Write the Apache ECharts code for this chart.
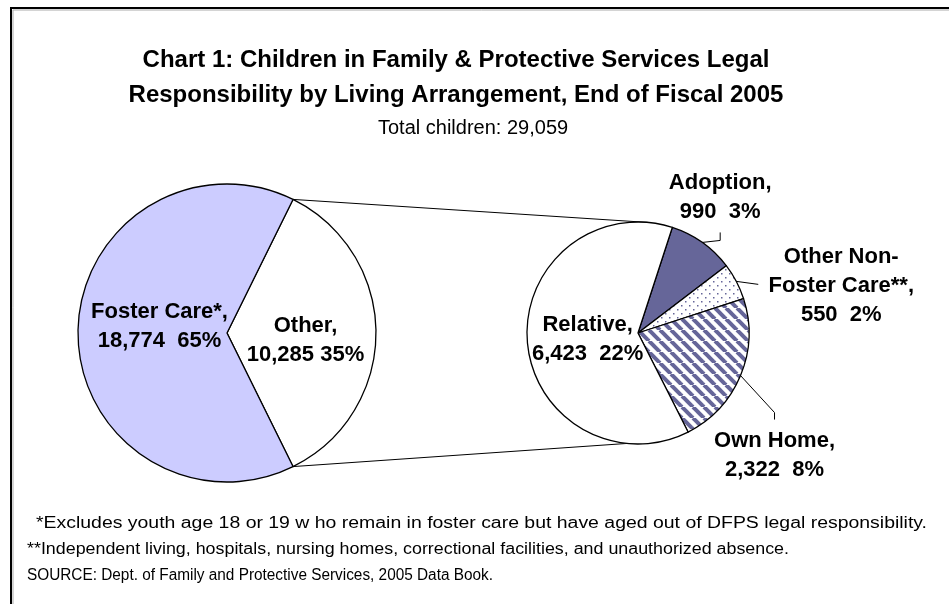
<!DOCTYPE html>
<html>
<head>
<meta charset="utf-8">
<title>Children in DFPS Legal Responsibility by Living Arrangement, 2005</title>
<script src="https://cdn.jsdelivr.net/npm/echarts@6.0.0/dist/echarts.min.js"></script>
<style>
    html, body { margin: 0; padding: 0; background: #fff; }
    #chart { width: 949px; height: 604px; }
</style>
</head>
<body>
<div id="chart"></div>
<script>
    // first pie: all children
    var mainNames = ['Other', 'Foster Care*'];
    var mainValues = [10285, 18774];
    // second pie: breakdown of "Other"
    var otherNames = ['Adoption', 'Other Non-\nFoster Care**', 'Own Home', 'Relative'];
    var otherValues = [990, 550, 2322, 6423];
    var totalChildren = 29059;

    var titleLines = [
        'Chart 1: Children in Family & Protective Services Legal',
        'Responsibility by Living Arrangement, End of Fiscal 2005'
    ];
    var subtitle = 'Total children: 29,059';
    var notes = [
        '*Excludes youth age 18 or 19 w ho remain in foster care but have aged out of DFPS legal responsibility.',
        '**Independent living, hospitals, nursing homes, correctional facilities, and unauthorized absence.',
        'SOURCE: Dept. of Family and Protective Services, 2005 Data Book.'
    ];

    var FONT = '"Liberation Sans", Arial, sans-serif';
    var bigC = [227, 333], bigR = 149;
    var smallC = [638, 333], smallR = 111;
    var smallStart = 72;

    function sum(a) { return a.reduce(function (s, v) { return s + v; }, 0); }

    // "Other" slice is centred on 3 o'clock
    var bigStart = 180 * mainValues[0] / sum(mainValues);

    function stripes() {
        var n = 11;
        var c = document.createElement('canvas');
        c.width = c.height = n;
        var g = c.getContext('2d');
        g.fillStyle = '#fff';
        g.fillRect(0, 0, n, n);
        g.strokeStyle = '#666699';
        g.lineWidth = 4;
        for (var k = -n; k <= n; k += n) {
            g.beginPath();
            g.moveTo(k, 0);
            g.lineTo(k + n, n);
            g.stroke();
        }
        return c;
    }

    function dots() {
        var c = document.createElement('canvas');
        c.width = c.height = 8;
        var g = c.getContext('2d');
        g.fillStyle = '#fff';
        g.fillRect(0, 0, 8, 8);
        g.fillStyle = '#666699';
        g.fillRect(1, 1, 1.5, 1.5);
        g.fillRect(5, 5, 1.5, 1.5);
        return c;
    }

    var smallFills = ['#666699', {image: dots(), repeat: 'repeat'}, {image: stripes(), repeat: 'repeat'}, '#fff'];
    var bigFills = ['#fff', '#ccccff'];

    function fmt(name, value) {
        var sep = name === 'Other' ? ' ' : '  ';
        return name + ',\n' + value.toLocaleString('en-US') + sep + Math.round(value / totalChildren * 100) + '%';
    }

    // callouts for the small slices: label centre and leader bends, relative to the slice's outer edge
    var callouts = {
        0: {dx: 18, dy: -45, bends: [[18, -2], [18, -10]]},
        1: {dx: 105, dy: 5, bends: [[22, 3]]},
        2: {dx: 34, dy: 80, bends: [[34, 37], [34, 44]]}
    };
    var bigNudge = {0: [1, 7], 1: [10, -7]};

    function smallEdge(i) {
        var tot = sum(otherValues), acc = 0;
        for (var k = 0; k < i; k++) acc += otherValues[k];
        var mid = smallStart - (acc + otherValues[i] / 2) / tot * 360;
        var a = mid * Math.PI / 180;
        return [smallC[0] + smallR * Math.cos(a), smallC[1] - smallR * Math.sin(a)];
    }

    function onCircle(c, r, deg) {
        var a = deg * Math.PI / 180;
        return [c[0] + r * Math.cos(a), c[1] - r * Math.sin(a)];
    }

    var p1 = onCircle(bigC, bigR, bigStart), p2 = onCircle(bigC, bigR, -bigStart);
    var q1 = onCircle(smallC, smallR, 85), q2 = onCircle(smallC, smallR, -95.7);

    var measure = document.createElement('canvas').getContext('2d');
    measure.font = '16px ' + FONT;

    var graphics = [
        {type: 'rect', z: 0, silent: true, shape: {x: 13, y: 10, width: 1000, height: 1000},
            style: {fill: null, stroke: '#aaa', lineWidth: 1}},
        {type: 'rect', z: 0, silent: true, shape: {x: 11, y: 8, width: 1000, height: 1000},
            style: {fill: null, stroke: '#000', lineWidth: 2}},
        {type: 'line', z: 1, shape: {x1: p1[0], y1: p1[1], x2: q1[0], y2: q1[1]}, style: {stroke: '#000', lineWidth: 1}},
        {type: 'line', z: 1, shape: {x1: p2[0], y1: p2[1], x2: q2[0], y2: q2[1]}, style: {stroke: '#000', lineWidth: 1}},
        {type: 'text', x: 456, y: 60, style: {text: titleLines[0], font: 'bold 24px ' + FONT, fill: '#000', align: 'center', verticalAlign: 'middle'}},
        {type: 'text', x: 456, y: 95, style: {text: titleLines[1], font: 'bold 24px ' + FONT, fill: '#000', align: 'center', verticalAlign: 'middle'}},
        {type: 'text', x: 378, y: 128, style: {text: subtitle, font: '20px ' + FONT, fill: '#000', align: 'left', verticalAlign: 'middle'}}
    ];
    // footnote lines: start x, centre y, and the width each line spans in the original
    var noteX = [36, 27, 27], noteY = [524, 550, 576], noteW = [891, 762, 466];
    notes.forEach(function (t, i) {
        graphics.push({type: 'text', x: noteX[i], y: noteY[i], scaleX: noteW[i] / measure.measureText(t).width,
            style: {text: t, font: '16px ' + FONT, fill: '#000', align: 'left', verticalAlign: 'middle'}});
    });

    var labelStyle = {color: '#000', fontFamily: FONT, fontWeight: 'bold', fontSize: 22, lineHeight: 29};

    var option = {
        animation: false,
        backgroundColor: '#fff',
        graphic: graphics,
        series: [
            {
                type: 'pie',
                center: bigC,
                radius: bigR,
                startAngle: bigStart,
                clockwise: true,
                silent: true,
                emphasis: {disabled: true},
                itemStyle: {borderColor: '#000', borderWidth: 1.3},
                label: Object.assign({position: 'inside', formatter: function (p) { return fmt(p.name, p.value); }}, labelStyle),
                labelLine: {show: false},
                labelLayout: function (p) {
                    var n = bigNudge[p.dataIndex];
                    return n ? {dx: n[0], dy: n[1]} : {};
                },
                data: mainNames.map(function (n, i) {
                    return {name: n, value: mainValues[i], itemStyle: {color: bigFills[i]}};
                })
            },
            {
                type: 'pie',
                center: smallC,
                radius: smallR,
                startAngle: smallStart,
                clockwise: true,
                silent: true,
                avoidLabelOverlap: false,
                emphasis: {disabled: true},
                itemStyle: {borderColor: '#000', borderWidth: 1.3},
                label: Object.assign({position: 'outside', formatter: function (p) { return fmt(p.name, p.value); }}, labelStyle),
                labelLine: {show: true, lineStyle: {color: '#000', width: 1}},
                labelLayout: function (p) {
                    var c = callouts[p.dataIndex];
                    if (!c) return {dx: 8, dy: 2};
                    var e = smallEdge(p.dataIndex);
                    var pts = [e].concat(c.bends.map(function (b) { return [e[0] + b[0], e[1] + b[1]]; }));
                    return {x: e[0] + c.dx, y: e[1] + c.dy, align: 'center', verticalAlign: 'middle', labelLinePoints: pts};
                },
                data: otherNames.map(function (n, i) {
                    var d = {name: n, value: otherValues[i], itemStyle: {color: smallFills[i]}};
                    if (i === 3) d.label = {position: 'inside'};
                    return d;
                })
            }
        ]
    };

    var myChart = echarts.init(document.getElementById('chart'));
    myChart.setOption(option);
</script>
</body>
</html>
